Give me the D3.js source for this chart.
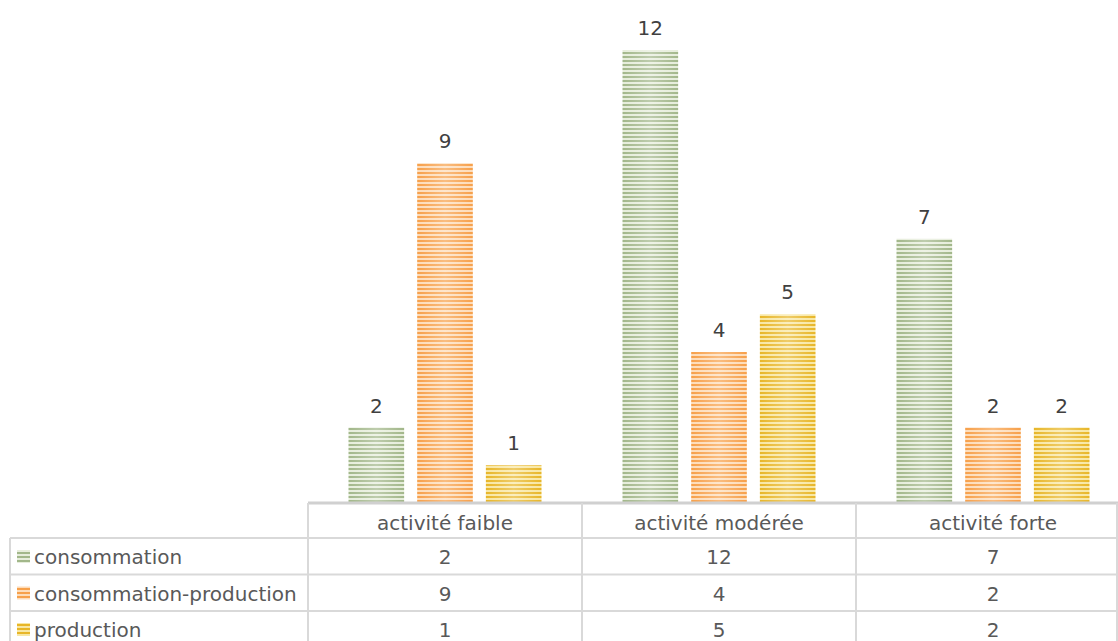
<html>
<head>
<script src="https://d3js.org/d3.v7.min.js"></script>
<style>
  body { margin: 0; background: #fff; }
  text { font-family: "DejaVu Sans", sans-serif; }
</style>
</head>
<body>
<svg id="chart" width="1118" height="641"></svg>
<script>
const categories = ['activité faible', 'activité modérée', 'activité forte'];
const seriesNames = ['consommation', 'consommation-production', 'production'];
const consommation = [2, 12, 7];
const consoProduction = [9, 4, 2];
const production = [1, 5, 2];
const seriesValues = [consommation, consoProduction, production];
const colors = [
  {dark: '#a2b78a', light: '#e6eddb'},
  {dark: '#f7a04a', light: '#fddcb9'},
  {dark: '#e8b628', light: '#f8e7a3'}
];

const svg = d3.select('svg#chart');
const plotLeft = 308;
const baseline = 503;
const rowH = 36.5;

const x = d3.scaleBand().domain(categories).range([plotLeft, plotLeft + 274 * 3]);
const xs = d3.scaleBand().domain(d3.range(3)).range([40.5, 233.5]).paddingInner(0.19).paddingOuter(0);
const y = d3.scaleLinear().domain([0, 12]).range([baseline, 50]);

const defs = svg.append('defs');
colors.forEach((c, i) => {
  let p = defs.append('pattern')
    .attr('id', 'stripe' + i)
    .attr('patternUnits', 'userSpaceOnUse')
    .attr('width', 8).attr('height', 4);
  p.append('rect').attr('width', 8).attr('height', 4).attr('fill', c.light);
  p.append('rect').attr('width', 8).attr('height', 2).attr('fill', c.dark);
});
let grad = defs.append('linearGradient').attr('id', 'shine');
grad.append('stop').attr('offset', '0%').attr('stop-color', '#fff').attr('stop-opacity', 0);
grad.append('stop').attr('offset', '50%').attr('stop-color', '#fff').attr('stop-opacity', 0.3);
grad.append('stop').attr('offset', '100%').attr('stop-color', '#fff').attr('stop-opacity', 0);

// bars
seriesValues.forEach((vals, si) => {
  vals.forEach((v, ci) => {
    const bx = x(categories[ci]) + xs(si);
    svg.append('rect')
      .attr('x', bx).attr('y', y(v))
      .attr('width', xs.bandwidth()).attr('height', baseline - y(v))
      .attr('fill', `url(#stripe${si})`);
    svg.append('rect')
      .attr('x', bx).attr('y', y(v))
      .attr('width', xs.bandwidth()).attr('height', baseline - y(v))
      .attr('fill', 'url(#shine)');
    svg.append('text')
      .attr('x', bx + xs.bandwidth() / 2).attr('y', y(v) - 15)
      .attr('text-anchor', 'middle')
      .attr('font-size', 20).attr('fill', '#404040')
      .text(v);
  });
});

// data table
const grid = svg.append('g').attr('stroke', '#d9d9d9').attr('stroke-width', 2);
const tableRight = 1118;
grid.append('line').attr('x1', plotLeft).attr('x2', tableRight).attr('y1', baseline).attr('y2', baseline).attr('stroke', '#d0d0d0').attr('stroke-width', 3);
for (let r = 1; r <= 3; r++) {
  const yy = baseline + 35 + (r - 1) * rowH;
  grid.append('line').attr('x1', 10).attr('x2', tableRight).attr('y1', yy).attr('y2', yy);
}
grid.append('line').attr('x1', 10).attr('x2', 10).attr('y1', baseline + 35).attr('y2', 641);
categories.forEach(c => {
  const xx = x(c);
  grid.append('line').attr('x1', xx).attr('x2', xx).attr('y1', baseline).attr('y2', 641);
});
grid.append('line').attr('x1', tableRight - 1).attr('x2', tableRight - 1).attr('y1', baseline).attr('y2', 641);

categories.forEach(c => {
  svg.append('text')
    .attr('x', x(c) + x.bandwidth() / 2).attr('y', baseline + 27)
    .attr('text-anchor', 'middle').attr('font-size', 20).attr('fill', '#595959')
    .text(c);
});

seriesNames.forEach((name, si) => {
  const rowTop = baseline + 35 + si * rowH;
  svg.append('rect')
    .attr('x', 17).attr('y', rowTop + 12).attr('width', 13).attr('height', 13)
    .attr('fill', `url(#stripe${si})`);
  svg.append('text')
    .attr('x', 34).attr('y', rowTop + 26)
    .attr('font-size', 20).attr('fill', '#595959')
    .text(name);
  seriesValues[si].forEach((v, ci) => {
    svg.append('text')
      .attr('x', x(categories[ci]) + x.bandwidth() / 2).attr('y', rowTop + 26)
      .attr('text-anchor', 'middle').attr('font-size', 20).attr('fill', '#595959')
      .text(v);
  });
});
</script>
</body>
</html>
